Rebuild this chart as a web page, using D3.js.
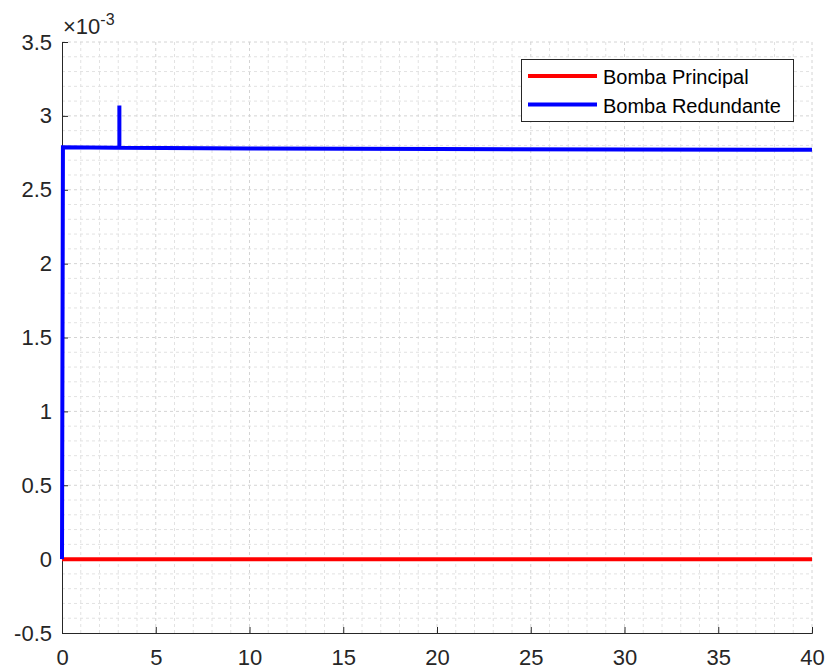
<!DOCTYPE html>
<html>
<head>
<meta charset="utf-8">
<script src="https://cdn.jsdelivr.net/npm/d3@7"></script>
<style>
  body { margin: 0; background: #fff; }
  svg { display: block; }
  text { font-family: "Liberation Sans", Arial, Helvetica, sans-serif; }
</style>
</head>
<body>
<svg id="chart" width="829" height="671"></svg>
<script>
// Flow time series (values in units of 1e-3)
const seriesNames = ["Bomba Principal", "Bomba Redundante"];
const seriesColors = ["#ff0000", "#0000ff"];

const principalX = [0, 40];
const principalY = [0, 0];

const redundanteX = [0, 0.05, 3.0, 3.06, 3.06, 3.06, 3.12, 10, 20, 30, 40];
const redundanteY = [0, 2.787, 2.785, 2.785, 3.07, 2.785, 2.784, 2.78, 2.775, 2.772, 2.77];

const xTicks = [0, 5, 10, 15, 20, 25, 30, 35, 40];
const yTicks = [-0.5, 0, 0.5, 1, 1.5, 2, 2.5, 3, 3.5];
const yTickLabels = ["-0.5", "0", "0.5", "1", "1.5", "2", "2.5", "3", "3.5"];

const svg = d3.select("#chart");
const mLeft = 62, mRight = 812, mTop = 42, mBottom = 633;

const x = d3.scaleLinear().domain([0, 40]).range([mLeft, mRight]);
const y = d3.scaleLinear().domain([-0.5, 3.5]).range([mBottom, mTop]);

// grid (minor + major, light dashed)
const xMinor = d3.range(0, 40.001, 1);
const yMinor = d3.range(-0.5, 3.5001, 0.1);
const grid = svg.append("g");
grid.selectAll("line.vx").data(xMinor.filter(v => v > 0 && v < 40)).enter().append("line")
  .attr("x1", d => x(d)).attr("x2", d => x(d)).attr("y1", mTop).attr("y2", mBottom)
  .attr("stroke", d => (Math.abs(d % 5) < 1e-9) ? "#d4d4d4" : "#e2e2e2")
  .attr("stroke-width", 1).attr("stroke-dasharray", "3,3");
grid.selectAll("line.hy").data(yMinor.filter(v => v > -0.499 && v < 3.499)).enter().append("line")
  .attr("y1", d => y(d)).attr("y2", d => y(d)).attr("x1", mLeft).attr("x2", mRight)
  .attr("stroke", d => (Math.abs(Math.round(d * 10) % 5) === 0) ? "#d4d4d4" : "#e2e2e2")
  .attr("stroke-width", 1).attr("stroke-dasharray", "3,3");
// top/right grid boundary lines
grid.append("line").attr("x1", mLeft).attr("x2", mRight).attr("y1", mTop).attr("y2", mTop)
  .attr("stroke", "#d4d4d4").attr("stroke-dasharray", "3,3");
grid.append("line").attr("x1", mRight).attr("x2", mRight).attr("y1", mTop).attr("y2", mBottom)
  .attr("stroke", "#d4d4d4").attr("stroke-dasharray", "3,3");

// axes
const xAxis = d3.axisBottom(x).tickValues(xTicks).tickSizeInner(-6).tickSizeOuter(-6).tickPadding(16);
const yAxis = d3.axisLeft(y).tickValues(yTicks).tickFormat((d, i) => yTickLabels[i]).tickSizeInner(-6).tickSizeOuter(-6).tickPadding(10);

const gx = svg.append("g").attr("transform", `translate(0,${mBottom})`).call(xAxis);
const gy = svg.append("g").attr("transform", `translate(${mLeft},0)`).call(yAxis);
[gx, gy].forEach(g => {
  g.attr("font-size", null).attr("font-family", null);
  g.select(".domain").attr("stroke", "#262626").attr("stroke-width", 1);
  g.selectAll(".tick line").attr("stroke", "#262626");
  g.selectAll(".tick text").attr("fill", "#262626").style("font-size", "22px");
});
gx.selectAll(".tick text").attr("dy", "0.72em");

// exponent label
const ex = svg.append("text").attr("x", 63).attr("y", 34).attr("fill", "#262626").style("font-size", "22px");
ex.append("tspan").text("\u00d710");
ex.append("tspan").attr("dy", -9).style("font-size", "16px").text("-3");

// lines
const line = d3.line().x(d => x(d[0])).y(d => y(d[1]));
const principal = principalX.map((v, i) => [v, principalY[i]]);
const redundante = redundanteX.map((v, i) => [v, redundanteY[i]]);

svg.append("path").datum(principal).attr("d", line).attr("fill", "none")
  .attr("stroke", seriesColors[0]).attr("stroke-width", 4);
svg.append("path").datum(redundante).attr("d", line).attr("fill", "none")
  .attr("stroke", seriesColors[1]).attr("stroke-width", 4).attr("stroke-linejoin", "miter");

// legend
const lg = svg.append("g");
lg.append("rect").attr("x", 521.5).attr("y", 59.5).attr("width", 272).attr("height", 62)
  .attr("fill", "#fff").attr("stroke", "#262626").attr("stroke-width", 1);
seriesNames.forEach((name, i) => {
  const yy = 76 + i * 28.5;
  lg.append("line").attr("x1", 528).attr("x2", 597).attr("y1", yy).attr("y2", yy)
    .attr("stroke", seriesColors[i]).attr("stroke-width", 4);
  lg.append("text").attr("x", 603).attr("y", yy + 1).attr("dy", "0.35em")
    .style("font-size", "20px").attr("fill", "#000").text(name);
});
</script>
</body>
</html>
